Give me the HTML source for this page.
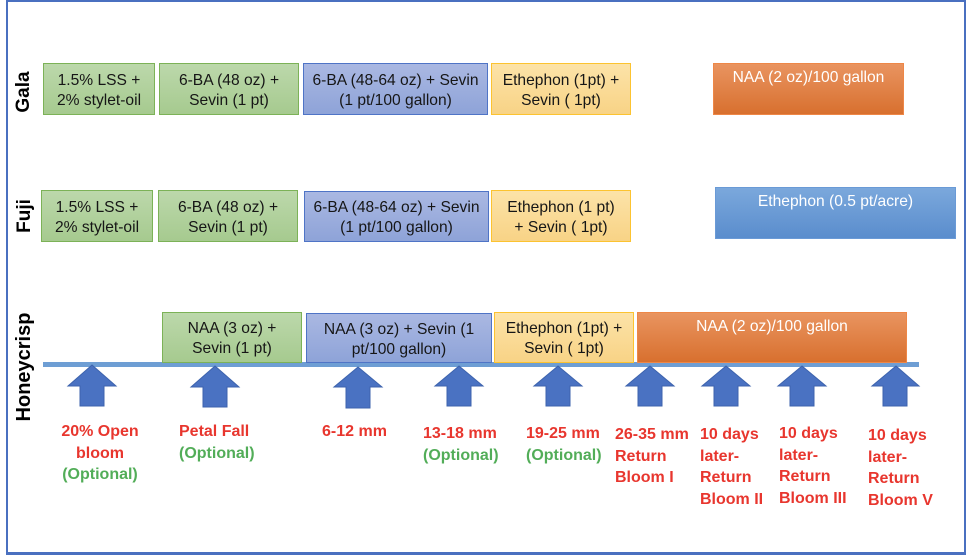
<!DOCTYPE html>
<html><head><meta charset="utf-8"><style>
*{margin:0;padding:0;box-sizing:border-box}
body{width:968px;height:555px;background:#fff;position:relative;overflow:hidden;font-family:"Liberation Sans",sans-serif}
.frame{position:absolute;left:6px;top:0;width:960px;height:555px;border:2px solid #4a70c0;border-bottom-width:3px}
.b{position:absolute;display:flex;align-items:center;justify-content:center;text-align:center;font-size:15.6px;line-height:20px;color:#161616;border:1px solid;padding-top:3px}
.g{background:linear-gradient(#bcd8ab,#a6ca8f);border-color:#7cb257}
.bl{background:linear-gradient(#aab8e2,#8ea3d8);border-color:#4f74c6}
.y{background:linear-gradient(#fce3a8,#f8d386);border-color:#fcc330}
.o{background:linear-gradient(#e99460,#d8702f);border-color:#ee8747;color:#fff;align-items:flex-start;padding-top:4px}
.lb{background:linear-gradient(#7ba8dc,#5a8dcd);border-color:#6a9ad6;color:#fff;align-items:flex-start;padding-top:4px}
.rl{position:absolute;font-weight:bold;font-size:19px;color:#000;transform:rotate(-90deg);white-space:nowrap;transform-origin:center center}
.t{position:absolute;font-weight:bold;font-size:16px;line-height:21.6px;color:#e8362e;white-space:nowrap}
.gr{color:#52ad58}
</style></head><body>
<div class="frame"></div>

<div class="rl" style="left:2px;top:81px;width:44px;height:22px;text-align:center">Gala</div>
<div class="rl" style="left:5px;top:205px;width:40px;height:22px;text-align:center">Fuji</div>
<div class="rl" style="left:-33px;top:356px;width:114px;height:22px;text-align:center;font-size:20px">Honeycrisp</div>

<!-- Gala -->
<div class="b g" style="left:43px;top:63px;width:112px;height:52px">1.5% LSS +<br>2% stylet-oil</div>
<div class="b g" style="left:159px;top:63px;width:140px;height:52px">6-BA (48 oz) +<br>Sevin (1 pt)</div>
<div class="b bl" style="left:303px;top:63px;width:185px;height:52px">6-BA (48-64 oz) + Sevin<br>(1 pt/100 gallon)</div>
<div class="b y" style="left:491px;top:63px;width:140px;height:52px">Ethephon (1pt) +<br>Sevin ( 1pt)</div>
<div class="b o" style="left:713px;top:63px;width:191px;height:52px">NAA (2 oz)/100 gallon</div>

<!-- Fuji -->
<div class="b g" style="left:41px;top:190px;width:112px;height:52px">1.5% LSS +<br>2% stylet-oil</div>
<div class="b g" style="left:158px;top:190px;width:140px;height:52px">6-BA (48 oz) +<br>Sevin (1 pt)</div>
<div class="b bl" style="left:304px;top:191px;width:185px;height:51px">6-BA (48-64 oz) + Sevin<br>(1 pt/100 gallon)</div>
<div class="b y" style="left:491px;top:190px;width:140px;height:52px">Ethephon (1 pt)<br>+ Sevin ( 1pt)</div>
<div class="b lb" style="left:715px;top:187px;width:241px;height:52px">Ethephon (0.5 pt/acre)</div>

<!-- timeline -->
<svg style="position:absolute;left:0;top:0" width="968" height="555">
<rect x="43" y="362" width="876" height="5" fill="#6e9ed4"/>
<g fill="#4a72c2" stroke="#3d63ad" stroke-width="1">
<polygon points="92,365 116,386 104,386 104,406 80,406 80,386 68,386"/>
<polygon points="215,366 239,387 227,387 227,407 203,407 203,387 191,387"/>
<polygon points="358,367 382,387 370,387 370,408 346,408 346,387 334,387"/>
<polygon points="459,366 483,386 471,386 471,406 447,406 447,386 435,386"/>
<polygon points="558,366 582,386 570,386 570,406 546,406 546,386 534,386"/>
<polygon points="650,366 674,386 662,386 662,406 638,406 638,386 626,386"/>
<polygon points="726,366 750,386 738,386 738,406 714,406 714,386 702,386"/>
<polygon points="802,366 826,386 814,386 814,406 790,406 790,386 778,386"/>
<polygon points="896,366 919,386 907,386 907,406 883,406 883,386 872,386"/>
</g>
</svg>

<!-- Honeycrisp boxes -->
<div class="b g" style="left:162px;top:312px;width:140px;height:51px">NAA (3 oz) +<br>Sevin (1 pt)</div>
<div class="b bl" style="left:306px;top:313px;width:186px;height:50px">NAA (3 oz) + Sevin (1<br>pt/100 gallon)</div>
<div class="b y" style="left:494px;top:312px;width:140px;height:51px">Ethephon (1pt) +<br>Sevin ( 1pt)</div>
<div class="b o" style="left:637px;top:312px;width:270px;height:51px">NAA (2 oz)/100 gallon</div>

<!-- labels -->
<div class="t" style="left:50px;top:421px;width:100px;text-align:center">20% Open<br>bloom<br><span class="gr">(Optional)</span></div>
<div class="t" style="left:179px;top:421px">Petal Fall<br><span class="gr">(Optional)</span></div>
<div class="t" style="left:322px;top:421px">6-12 mm</div>
<div class="t" style="left:423px;top:423px">13-18 mm<br><span class="gr">(Optional)</span></div>
<div class="t" style="left:526px;top:423px">19-25 mm<br><span class="gr">(Optional)</span></div>
<div class="t" style="left:615px;top:424px">26-35 mm<br>Return<br>Bloom I</div>
<div class="t" style="left:700px;top:424px">10 days<br>later-<br>Return<br>Bloom II</div>
<div class="t" style="left:779px;top:423px">10 days<br>later-<br>Return<br>Bloom III</div>
<div class="t" style="left:868px;top:425px">10 days<br>later-<br>Return<br>Bloom V</div>
</body></html>
